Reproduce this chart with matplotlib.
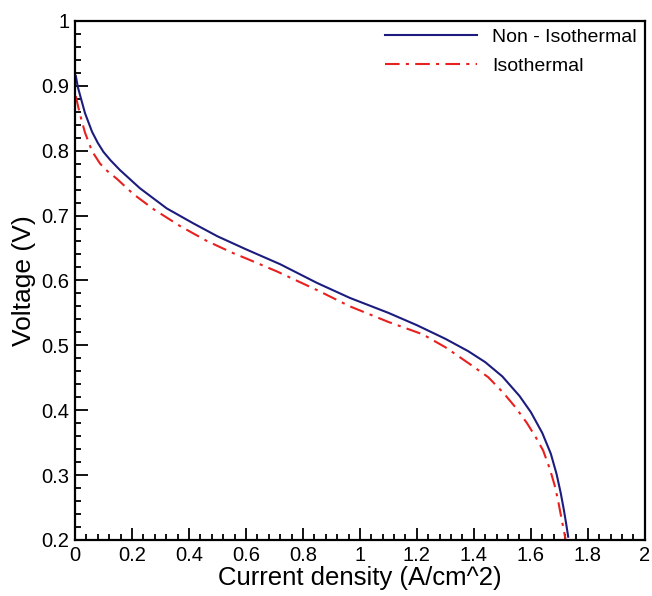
import numpy as np
import matplotlib
matplotlib.use("Agg")
import matplotlib.pyplot as plt
from matplotlib.ticker import MultipleLocator

plt.rcParams["font.family"] = ["Liberation Sans", "DejaVu Sans"]

# current density (A/cm^2) and voltage (V)
x_noniso = [0.003, 0.01, 0.0175, 0.035, 0.06, 0.08, 0.1, 0.125, 0.158, 0.228,
            0.322, 0.415, 0.5, 0.6, 0.72, 0.85, 0.965, 1.1, 1.2, 1.3, 1.38, 1.44,
            1.5, 1.56, 1.6, 1.64, 1.67, 1.69, 1.705, 1.716, 1.725, 1.731]
v_noniso = [0.915, 0.898, 0.886, 0.858, 0.829, 0.812, 0.798, 0.785, 0.770, 0.742,
            0.711, 0.688, 0.668, 0.648, 0.625, 0.596, 0.573, 0.550, 0.531, 0.510,
            0.491, 0.474, 0.452, 0.422, 0.397, 0.365, 0.333, 0.302, 0.272, 0.246,
            0.222, 0.205]

x_iso = [0.003, 0.01, 0.0175, 0.035, 0.06, 0.088, 0.115, 0.146, 0.205, 0.275,
         0.368, 0.462, 0.55, 0.6, 0.708, 0.85, 0.965, 1.1, 1.22, 1.3, 1.386, 1.45,
         1.503, 1.545, 1.585, 1.615, 1.643, 1.667, 1.683, 1.695, 1.708, 1.717,
         1.722]
v_iso = [0.884, 0.87, 0.856, 0.828, 0.799, 0.780, 0.768, 0.757, 0.733, 0.710,
         0.684, 0.661, 0.643, 0.634, 0.614, 0.585, 0.560, 0.536, 0.517, 0.497,
         0.471, 0.451, 0.427, 0.405, 0.381, 0.36, 0.338, 0.309, 0.285, 0.262,
         0.232, 0.212, 0.2]

fig = plt.figure(figsize=(6.52, 5.96), dpi=100)
ax = fig.add_axes([0.115, 0.094, 0.874, 0.871])

ax.plot(x_noniso, v_noniso, color="#1c1c7e", lw=1.5, label="Non - Isothermal")
ax.plot(x_iso, v_iso, color="#e8201f", lw=1.5, dashes=(7, 3, 1.5, 3),
        label="Isothermal")

ax.set_xlim(0, 2)
ax.set_ylim(0.2, 1)
ax.xaxis.set_major_locator(MultipleLocator(0.2))
ax.xaxis.set_minor_locator(MultipleLocator(0.04))
ax.yaxis.set_major_locator(MultipleLocator(0.1))
ax.yaxis.set_minor_locator(MultipleLocator(0.02))
ax.xaxis.set_major_formatter(plt.FuncFormatter(lambda v, p: f"{v:g}"))
ax.yaxis.set_major_formatter(plt.FuncFormatter(lambda v, p: f"{v:g}"))

ax.tick_params(which="both", direction="in", top=False, right=False,
               labelsize=14.5, width=1.3)
ax.tick_params(which="major", length=9, pad=4)
ax.tick_params(which="minor", length=4.5)
for s in ax.spines.values():
    s.set_linewidth(1.6)

ax.set_xlabel("Current density (A/cm^2)", fontsize=18.5, labelpad=1)
ax.set_ylabel("Voltage (V)", fontsize=19, labelpad=4)

ax.legend(loc="upper right", frameon=False, fontsize=14, handlelength=4.7,
          borderaxespad=0.0, labelspacing=0.55, handletextpad=0.8)

fig.savefig("out.png", dpi=100)
